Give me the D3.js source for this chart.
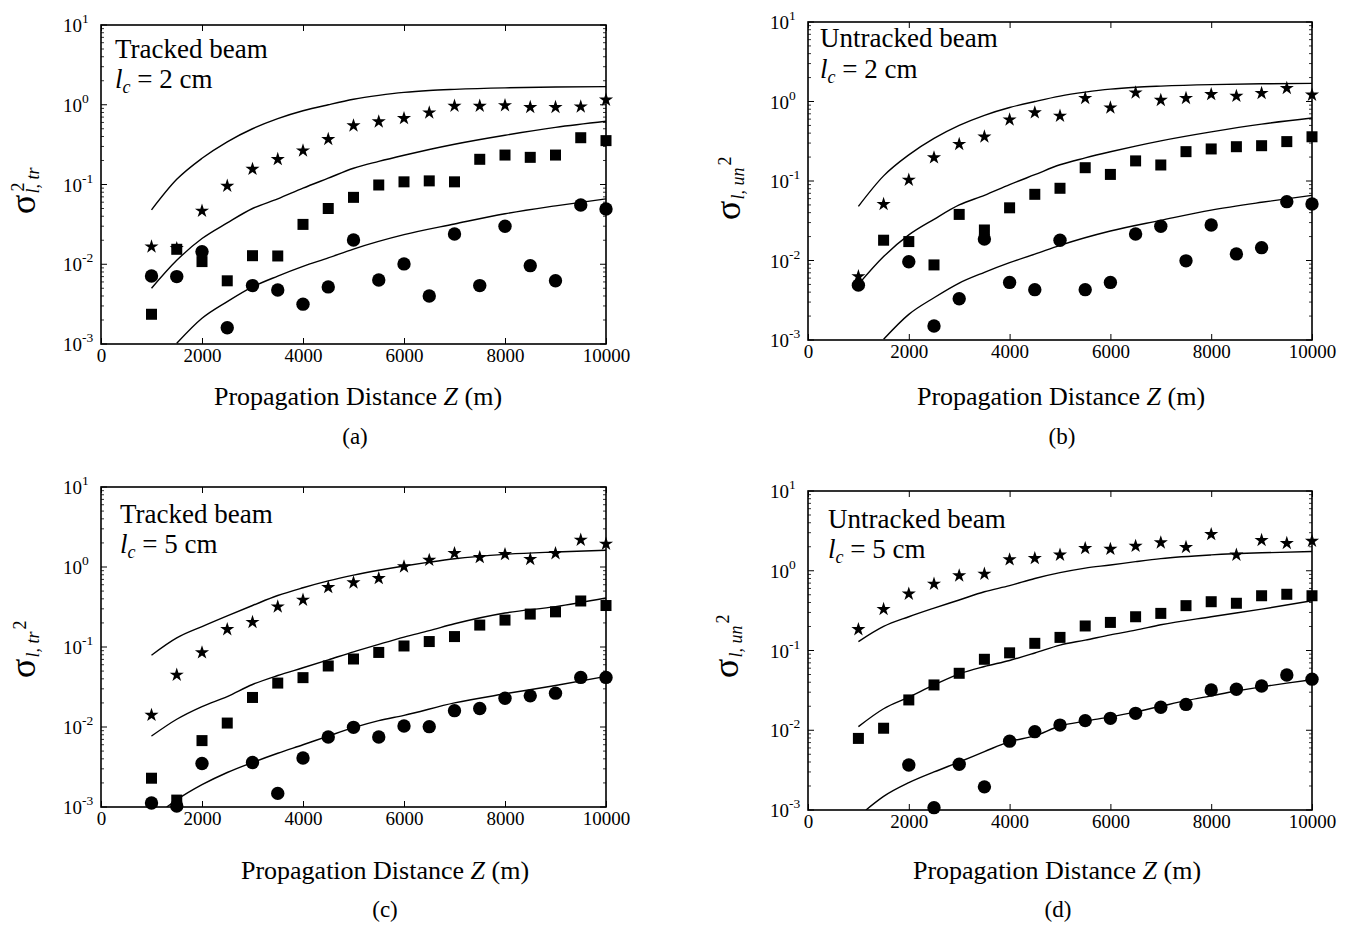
<!DOCTYPE html>
<meta charset="utf-8">
<head>
    <title>Scintillation index vs propagation distance</title>
    <meta charset="utf-8">
    <script type="text/javascript" src="https://cdn.jsdelivr.net/npm/d3@7"></script>
    <style>
        body { margin: 0; background: #fff; }
        text { font-family: "Liberation Serif", "Times New Roman", serif; fill: #000; }
    </style>
</head>
<body>
<div id="chart"></div>
<script>

// propagation distances of the measured points (m)
var zPoints = [1000,1500,2000,2500,3000,3500,4000,4500,5000,5500,6000,6500,7000,7500,8000,8500,9000,9500,10000]
var xTicks = [0,2000,4000,6000,8000,10000]
var yDecades = [1e-3,1e-2,1e-1,1e0,1e1]

// (a) tracked, lc = 2 cm
var starA   = [0.0166,0.0158,0.0466,0.0957,0.156,0.207,0.265,0.369,0.547,0.614,0.676,0.795,0.964,0.964,0.98,0.93,0.93,0.946,1.15]
var squareA = [0.00236,0.0154,0.0108,0.0062,0.0128,0.0127,0.0316,0.050,0.069,0.0986,0.108,0.111,0.108,0.207,0.234,0.219,0.234,0.386,0.355]
var circleA = [0.00713,0.0070,0.0144,0.0016,0.0054,0.00475,0.00316,0.0052,0.0201,0.00635,0.0101,0.0040,0.024,0.0054,0.030,0.0096,0.0062,0.0553,0.0493]

// (b) untracked, lc = 2 cm
var starB   = [0.0063,0.051,0.103,0.197,0.29,0.36,0.59,0.725,0.658,1.10,0.836,1.29,1.04,1.10,1.23,1.17,1.27,1.47,1.21]
var squareB = [null,0.018,0.0173,0.0088,0.038,0.0242,0.046,0.068,0.081,0.147,0.121,0.179,0.159,0.234,0.253,0.27,0.278,0.313,0.36]
var circleB = [0.0049,null,0.00966,0.0015,0.0033,0.0186,0.0053,0.0043,0.018,0.0043,0.0053,0.0215,0.027,0.0099,0.028,0.0121,0.0145,0.055,0.0514]

// (c) tracked, lc = 5 cm
var starC   = [0.0141,0.0447,0.0851,0.166,0.204,0.319,0.387,0.557,0.637,0.722,1.01,1.22,1.48,1.32,1.44,1.25,1.48,2.18,1.94]
var squareC = [0.00229,0.00122,0.00676,0.0112,0.0234,0.0354,0.0414,0.0579,0.0708,0.0855,0.103,0.117,0.135,0.188,0.217,0.258,0.275,0.376,0.33]
var circleC = [0.00112,0.00103,0.0035,null,0.0036,0.00148,0.0041,0.0075,0.0099,0.0075,0.0103,0.0101,0.016,0.017,0.0229,0.0245,0.0265,0.0417,0.0417]

// (d) untracked, lc = 5 cm
var starD   = [0.184,0.329,0.513,0.683,0.868,0.912,1.38,1.43,1.58,1.91,1.87,2.04,2.25,1.97,2.86,1.58,2.41,2.21,2.36]
var squareD = [0.0079,0.0106,0.024,0.037,0.0518,0.0776,0.0935,0.123,0.146,0.203,0.225,0.265,0.292,0.365,0.409,0.391,0.486,0.507,0.486]
var circleD = [null,null,0.00366,0.00107,0.00374,0.00195,0.0073,0.0096,0.0116,0.0132,0.0141,0.0163,0.0194,0.0211,0.032,0.0326,0.0359,0.0493,0.0437]

// theory curves
var zTheory = [1000,1500,2000,2500,3000,3500,4000,4500,5000,5500,6000,6500,7000,8000,9000,10000]
var topLc2 = [0.048,0.116,0.213,0.343,0.50,0.67,0.84,1.0,1.17,1.31,1.43,1.51,1.56,1.63,1.67,1.69]
var midLc2 = [0.0050,0.0112,0.021,0.033,0.050,0.066,0.090,0.12,0.16,0.195,0.233,0.275,0.32,0.415,0.52,0.62]
var zLowLc2 = [1500,2000,2500,3000,3500,4000,4500,5000,6000,7000,8000,9000,10000]
var lowLc2 = [0.00102,0.0021,0.0034,0.0052,0.0071,0.0094,0.012,0.0155,0.0235,0.032,0.043,0.054,0.066]

var topTrLc5 = [0.079,0.13,0.18,0.245,0.33,0.44,0.55,0.67,0.79,0.91,1.03,1.15,1.27,1.44,1.54,1.62]
var midTrLc5 = [0.0077,0.0125,0.018,0.024,0.034,0.044,0.055,0.069,0.087,0.108,0.133,0.16,0.195,0.266,0.32,0.41]
var zLowTrLc5 = [1300,1500,2000,2500,3000,3500,4000,4500,5000,5500,6000,7000,8000,9000,10000]
var lowTrLc5 = [0.001,0.00123,0.0019,0.0027,0.0036,0.0047,0.006,0.0077,0.0098,0.012,0.014,0.02,0.026,0.033,0.043]

var topUnLc5 = [0.129,0.20,0.265,0.34,0.43,0.546,0.65,0.80,0.946,1.08,1.18,1.30,1.42,1.58,1.68,1.74]
var midUnLc5 = [0.0111,0.0186,0.026,0.037,0.051,0.063,0.075,0.093,0.117,0.135,0.157,0.18,0.21,0.265,0.33,0.42]
var zLowUnLc5 = [1150,1500,2000,2500,3000,3500,4000,4500,5000,5500,6000,6500,7000,7500,8000,8500,9000,9500,10000]
var lowUnLc5 = [0.001,0.00148,0.0022,0.003,0.004,0.0054,0.0072,0.0085,0.0113,0.013,0.0147,0.017,0.02,0.0235,0.027,0.031,0.035,0.039,0.043]

var panels = [
  {key:"a", box:[101,25,606,344], beam:"Tracked beam", lc:"2", sub:"tr", stacked:true,
   stars:starA, squares:squareA, circles:circleA,
   curves:[[zTheory,topLc2],[zTheory,midLc2],[zLowLc2,lowLc2]],
   note:[115,58,88], ylab:[35,214], xlab:[358,405], cap:[355,444]},
  {key:"b", box:[808,22,1312,340], beam:"Untracked beam", lc:"2", sub:"un", stacked:false,
   stars:starB, squares:squareB, circles:circleB,
   curves:[[zTheory,topLc2],[zTheory,midLc2],[zLowLc2,lowLc2]],
   note:[820,47,78], ylab:[740,220], xlab:[1061,405], cap:[1062,444]},
  {key:"c", box:[101,487,606,807], beam:"Tracked beam", lc:"5", sub:"tr", stacked:false,
   stars:starC, squares:squareC, circles:circleC,
   curves:[[zTheory,topTrLc5],[zTheory,midTrLc5],[zLowTrLc5,lowTrLc5]],
   note:[120,523,553], ylab:[35,678], xlab:[385,879], cap:[385,917]},
  {key:"d", box:[808,491,1312,810], beam:"Untracked beam", lc:"5", sub:"un", stacked:false,
   stars:starD, squares:squareD, circles:circleD,
   curves:[[zTheory,topUnLc5],[zTheory,midUnLc5],[zLowUnLc5,lowUnLc5]],
   note:[828,528,558], ylab:[738,678], xlab:[1057,879], cap:[1058,917]}
]

var svg = d3.select("#chart").append("svg")
  .attr("width",1351)
  .attr("height",926)

svg.append("rect").attr("width",1351).attr("height",926).attr("fill","#fff")

panels.forEach(function(p){ drawPanel(p) })

function drawPanel(p){
  var w = p.box[2]-p.box[0], h = p.box[3]-p.box[1]
  var x = d3.scaleLinear().domain([0,10000]).range([0,w])
  var y = d3.scaleLog().domain([1e-3,10]).range([h,0])

  var g = svg.append("g").attr("transform","translate("+p.box[0]+","+p.box[1]+")")

  g.append("clipPath").attr("id","clip"+p.key)
    .append("rect").attr("width",w).attr("height",h)

  // theory lines
  var line = d3.line().x(function(d){return x(d[0])}).y(function(d){return y(d[1])})
    .curve(d3.curveMonotoneX)
  p.curves.forEach(function(c){
    var pts = c[0].map(function(z,i){return [z,c[1][i]]})
    g.append("path").datum(pts)
      .attr("clip-path","url(#clip"+p.key+")")
      .attr("fill","none").attr("stroke","#000").attr("stroke-width",1.4)
      .attr("d",line)
  })

  // measured points
  var pick = function(arr){
    return zPoints.map(function(z,i){return [z,arr[i]]}).filter(function(d){return d[1]!=null})
  }
  g.selectAll(".sq").data(pick(p.squares)).enter().append("rect")
    .attr("x",function(d){return x(d[0])-5.5})
    .attr("y",function(d){return y(d[1])-5.5})
    .attr("width",11).attr("height",11).attr("fill","#000")
  g.selectAll(".ci").data(pick(p.circles)).enter().append("circle")
    .attr("cx",function(d){return x(d[0])})
    .attr("cy",function(d){return y(d[1])})
    .attr("r",6.7).attr("fill","#000")
  var star = d3.symbol().type(d3.symbolStar).size(62)
  g.selectAll(".st").data(pick(p.stars)).enter().append("path")
    .attr("transform",function(d){return "translate("+x(d[0])+","+y(d[1])+")"})
    .attr("d",star).attr("fill","#000")

  // frame
  g.append("rect").attr("width",w).attr("height",h)
    .attr("fill","none").attr("stroke","#000").attr("stroke-width",1.6)

  // x ticks, bottom and top, pointing inwards
  g.append("g").attr("transform","translate(0,"+h+")")
    .call(d3.axisBottom(x).tickValues(xTicks).tickSizeInner(-6).tickSizeOuter(0).tickPadding(5)
      .tickFormat(d3.format("d")))
    .call(styleAxis)
  g.append("g")
    .call(d3.axisTop(x).tickValues(xTicks).tickSizeInner(-6).tickSizeOuter(0).tickFormat(""))
    .call(styleAxis)

  // y ticks with minor log ticks
  var minor = []
  yDecades.slice(0,-1).forEach(function(dv){ for(var k=2;k<10;k++) minor.push(dv*k) })
  ;[0,w].forEach(function(xp){
    var s = xp==0 ? 1 : -1
    g.selectAll(null).data(yDecades).enter().append("line")
      .attr("x1",xp).attr("x2",xp+s*6)
      .attr("y1",function(d){return y(d)}).attr("y2",function(d){return y(d)})
      .attr("stroke","#000").attr("stroke-width",1)
    g.selectAll(null).data(minor).enter().append("line")
      .attr("x1",xp).attr("x2",xp+s*3)
      .attr("y1",function(d){return y(d)}).attr("y2",function(d){return y(d)})
      .attr("stroke","#000").attr("stroke-width",0.8)
  })

  var yl = g.selectAll(null).data(yDecades).enter().append("text")
    .attr("x",-38).attr("y",function(d){return y(d)+7})
    .attr("font-size",19)
  yl.append("tspan").text("10")
  yl.append("tspan").attr("dy",-9).attr("font-size",13.5)
    .text(function(d){return String(Math.round(Math.log10(d))).replace("\u2212","-")})

  // annotation
  svg.append("text").attr("x",p.note[0]).attr("y",p.note[1]).attr("font-size",27).text(p.beam)
  var lc = svg.append("text").attr("x",p.note[0]).attr("y",p.note[2]).attr("font-size",27)
  lc.append("tspan").attr("font-style","italic").text("l")
  lc.append("tspan").attr("font-style","italic").attr("font-size",18).attr("dy",5).text("c")
  lc.append("tspan").attr("dy",-5).text(" = "+p.lc+" cm")

  // x-axis title and panel caption
  var xt = svg.append("text").attr("x",p.xlab[0]).attr("y",p.xlab[1])
    .attr("text-anchor","middle").attr("font-size",26)
  xt.append("tspan").text("Propagation Distance ")
  xt.append("tspan").attr("font-style","italic").text("Z")
  xt.append("tspan").text(" (m)")
  svg.append("text").attr("x",p.cap[0]).attr("y",p.cap[1])
    .attr("text-anchor","middle").attr("font-size",23).text("("+p.key+")")

  // y-axis title, rotated
  var yg = svg.append("g").attr("transform","translate("+p.ylab[0]+","+p.ylab[1]+") rotate(-90)")
  var sig = yg.append("text").attr("font-size",36).text("\u03c3")
  var sw = sig.node().getComputedTextLength()
  var sub = yg.append("text").attr("x",sw+1).attr("y",4).attr("font-size",18).attr("font-style","italic")
    .text("l, "+p.sub)
  if(p.stacked){
    yg.append("text").attr("x",sw+3).attr("y",-11).attr("font-size",18).text("2")
  } else {
    var subw = sub.node().getComputedTextLength()
    yg.append("text").attr("x",sw+subw+3).attr("y",-9).attr("font-size",18).text("2")
  }
}

function styleAxis(sel){
  sel.select(".domain").remove()
  sel.selectAll("line").attr("stroke","#000")
  sel.selectAll("text").attr("font-size",19)
    .attr("font-family","Liberation Serif, Times New Roman, serif").attr("fill","#000")
}
</script>
</body>
</html>
